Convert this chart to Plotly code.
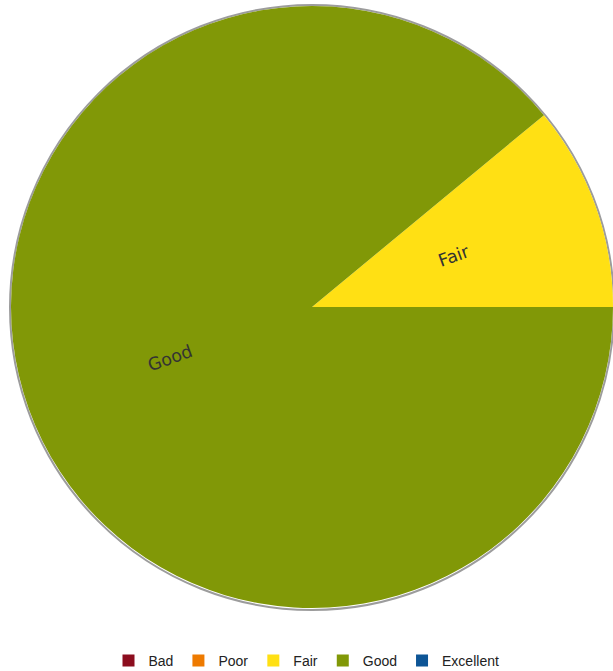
import math
import plotly.graph_objects as go

categories = ["Bad", "Poor", "Fair", "Good", "Excellent"]
values = [0, 0, 11, 89, 0]
colors = ["#8c0d1e", "#ee7a00", "#ffe014", "#819807", "#0d5596"]

W, H = 613, 671
cx, cy, r = 312, 307, 301

fig = go.Figure()
fig.add_trace(go.Pie(
    labels=categories,
    values=values,
    marker=dict(colors=colors, line=dict(width=0)),
    sort=False,
    direction="counterclockwise",
    rotation=90,
    textinfo="none",
    domain=dict(x=[(cx - r) / W, (cx + r) / W], y=[1 - (cy + r) / H, 1 - (cy - r) / H]),
    hoverinfo="label+value",
))

# slice labels placed radially at about half radius, derived from the data
total = sum(values)
start = 0.0
for lab, v in zip(categories, values):
    if v <= 0:
        continue
    span = 360.0 * v / total
    mid = start + span / 2
    start += span
    rad = math.radians(mid)
    px = cx + 0.5 * r * math.cos(rad)
    py = cy - 0.5 * r * math.sin(rad)
    t = mid % 180
    if t > 90:
        t -= 180
    fig.add_annotation(x=px / W, y=1 - py / H, xref="paper", yref="paper",
                       xanchor="center", yanchor="middle",
                       text=lab, showarrow=False, textangle=-t,
                       font=dict(family="DejaVu Sans, Verdana, sans-serif", size=17.5, color="#333333"))

fig.add_shape(type="circle", xref="paper", yref="paper",
              x0=(cx - r - 1) / W, x1=(cx + r + 1) / W,
              y0=1 - (cy + r + 2) / H, y1=1 - (cy - r - 1) / H,
              line=dict(color="rgba(90,90,90,0.6)", width=2), layer="below")

fig.update_layout(
    width=W, height=H,
    margin=dict(l=0, r=0, t=0, b=0, autoexpand=False),
    paper_bgcolor="white", plot_bgcolor="white",
    showlegend=True,
    legend=dict(orientation="h", x=0.5, xanchor="center", y=1 - 661 / H, yanchor="middle",
                font=dict(family="Arial, Liberation Sans, sans-serif", size=14, color="#222222"),
                itemwidth=30, traceorder="normal"),
)

fig.write_html("out.html", config={"displayModeBar": False},
               post_script="document.body.style.margin='0';document.body.style.overflow='hidden';")
